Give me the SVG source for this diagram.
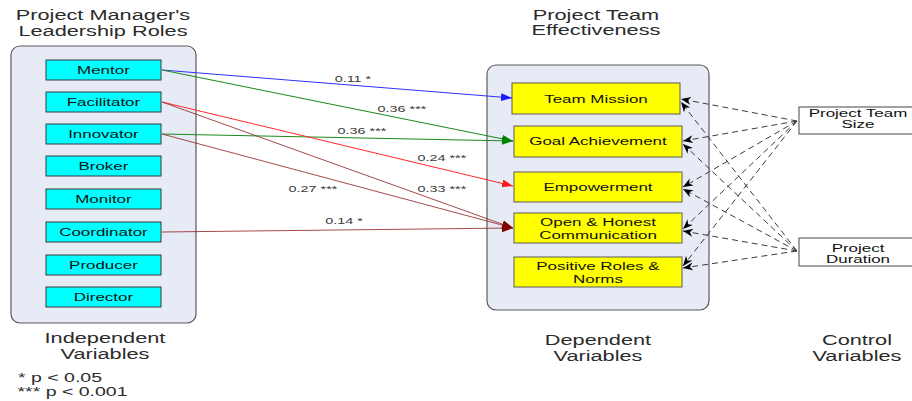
<svg xmlns="http://www.w3.org/2000/svg" width="912" height="401" viewBox="0 0 912 401">
  <defs>
    <style>
      .t { font-family: "Liberation Sans", Arial, sans-serif; text-anchor: middle; fill: #2b2b2b;
           transform-box: fill-box; transform-origin: center; transform: scaleX(1.5); }
      .title { font-size: 14.5px; }
      .lbl { font-size: 11.3px; fill: #111; }
      .w { font-size: 9.6px; fill: #3a3a3a; }
      .note { font-size: 13px; }
      .panel { fill: #e6ebf5; stroke: #5a5a5a; stroke-width: 1.2; }
      .role { fill: #00ffff; stroke: #3a3a3a; stroke-width: 1; }
      .dep { fill: #ffff00; stroke: #5a5a5a; stroke-width: 1; }
      .ctl { fill: #ffffff; stroke: #444; stroke-width: 1; }
      .e { fill: none; stroke-width: 1; }
      .dash { fill: none; stroke: #3c3c3c; stroke-width: 1; stroke-dasharray: 6 4; marker-end: url(#ab); }
    </style>
    <marker id="ablue" markerUnits="userSpaceOnUse" markerWidth="12" markerHeight="10" refX="11" refY="4" orient="auto">
      <path d="M0,0 L11,4 L0,8 Z" fill="#1a1aff"/>
    </marker>
    <marker id="agreen" markerUnits="userSpaceOnUse" markerWidth="12" markerHeight="10" refX="11" refY="4" orient="auto">
      <path d="M0,0 L11,4 L0,8 Z" fill="#008000"/>
    </marker>
    <marker id="ared" markerUnits="userSpaceOnUse" markerWidth="12" markerHeight="10" refX="11" refY="4" orient="auto">
      <path d="M0,0 L11,4 L0,8 Z" fill="#ff1a1a"/>
    </marker>
    <marker id="adark" markerUnits="userSpaceOnUse" markerWidth="12" markerHeight="10" refX="11" refY="4" orient="auto">
      <path d="M0,0 L11,4 L0,8 Z" fill="#800000"/>
    </marker>
    <marker id="ab" markerUnits="userSpaceOnUse" markerWidth="12" markerHeight="10" refX="10" refY="4" orient="auto">
      <path d="M0,0 L10,4 L0,8 L3,4 Z" fill="#000"/>
    </marker>
  </defs>

  <rect width="912" height="401" fill="#ffffff"/>

  <!-- section headings -->
  <g id="headings">
    <text class="t title" x="103" y="20">Project Manager's</text>
    <text class="t title" x="103" y="36">Leadership Roles</text>
    <text class="t title" x="596" y="20">Project Team</text>
    <text class="t title" x="596" y="35">Effectiveness</text>
    <text class="t title" x="105" y="343">Independent</text>
    <text class="t title" x="105" y="359">Variables</text>
    <text class="t title" x="598" y="345">Dependent</text>
    <text class="t title" x="598" y="361">Variables</text>
    <text class="t title" x="857" y="345">Control</text>
    <text class="t title" x="857" y="361">Variables</text>
    <text class="t note" x="60" y="382">* p &lt; 0.05</text>
    <text class="t note" x="72.5" y="396">*** p &lt; 0.001</text>
  </g>

  <!-- panels -->
  <g id="roles-panel">
    <rect class="panel" x="11" y="46" width="185" height="277" rx="9"/>
  </g>
  <g id="effectiveness-panel">
    <rect class="panel" x="487" y="65" width="222" height="245" rx="9"/>
  </g>

  <!-- leadership roles -->
  <g id="mentor"><rect class="role" x="46" y="60" width="115" height="20"/><text class="t lbl" x="103.5" y="74">Mentor</text></g>
  <g id="facilitator"><rect class="role" x="46" y="92" width="115" height="20"/><text class="t lbl" x="103.5" y="106">Facilitator</text></g>
  <g id="innovator"><rect class="role" x="46" y="124" width="115" height="20"/><text class="t lbl" x="103.5" y="138">Innovator</text></g>
  <g id="broker"><rect class="role" x="46" y="156" width="115" height="20"/><text class="t lbl" x="103.5" y="170">Broker</text></g>
  <g id="monitor"><rect class="role" x="46" y="189" width="115" height="20"/><text class="t lbl" x="103.5" y="203">Monitor</text></g>
  <g id="coordinator"><rect class="role" x="46" y="222" width="115" height="20"/><text class="t lbl" x="103.5" y="236">Coordinator</text></g>
  <g id="producer"><rect class="role" x="46" y="255" width="115" height="20"/><text class="t lbl" x="103.5" y="269">Producer</text></g>
  <g id="director"><rect class="role" x="46" y="287" width="115" height="20"/><text class="t lbl" x="103.5" y="301">Director</text></g>

  <!-- team effectiveness outcomes -->
  <g id="team-mission"><rect class="dep" x="512" y="83" width="168" height="31"/><text class="t lbl" x="596" y="103">Team Mission</text></g>
  <g id="goal-achievement"><rect class="dep" x="514" y="126" width="168" height="31"/><text class="t lbl" x="598" y="145.5">Goal Achievement</text></g>
  <g id="empowerment"><rect class="dep" x="514" y="172" width="168" height="30"/><text class="t lbl" x="598" y="191.5">Empowerment</text></g>
  <g id="open-honest">
    <rect class="dep" x="514" y="213" width="168" height="30"/>
    <text class="t lbl" x="598" y="226.5">Open &amp; Honest</text>
    <text class="t lbl" x="598" y="239">Communication</text>
  </g>
  <g id="positive-roles">
    <rect class="dep" x="514" y="257" width="168" height="30"/>
    <text class="t lbl" x="598" y="270.5">Positive Roles &amp;</text>
    <text class="t lbl" x="598" y="283">Norms</text>
  </g>

  <!-- control variables -->
  <g id="team-size">
    <rect class="ctl" x="799" y="107" width="118" height="27"/>
    <text class="t lbl" x="858" y="117">Project Team</text>
    <text class="t lbl" x="858" y="128.5">Size</text>
  </g>
  <g id="duration">
    <rect class="ctl" x="799" y="238" width="118" height="28"/>
    <text class="t lbl" x="858" y="252">Project</text>
    <text class="t lbl" x="858" y="263.5">Duration</text>
  </g>

  <!-- connectors -->
  <g id="connectors">
    <line class="e" x1="162" y1="70" x2="512" y2="98" stroke="#3030ff" marker-end="url(#ablue)"/>
    <line class="e" x1="162" y1="70" x2="513" y2="141" stroke="#1a8a1a" marker-end="url(#agreen)"/>
    <line class="e" x1="162" y1="134" x2="513" y2="141" stroke="#1a8a1a" marker-end="url(#agreen)"/>
    <line class="e" x1="162" y1="102" x2="513" y2="186" stroke="#ff2a2a" marker-end="url(#ared)"/>
    <line class="e" x1="162" y1="102" x2="513" y2="228" stroke="#952a2a" stroke-opacity="0.85" marker-end="url(#adark)"/>
    <line class="e" x1="162" y1="134" x2="513" y2="228" stroke="#952a2a" stroke-opacity="0.85" marker-end="url(#adark)"/>
    <line class="e" x1="162" y1="232" x2="513" y2="228" stroke="#952a2a" stroke-opacity="0.85" marker-end="url(#adark)"/>

    <text class="t w" x="353" y="82">0.11 *</text>
    <text class="t w" x="402" y="112">0.36 ***</text>
    <text class="t w" x="362" y="134">0.36 ***</text>
    <text class="t w" x="442" y="161">0.24 ***</text>
    <text class="t w" x="313" y="192">0.27 ***</text>
    <text class="t w" x="442" y="192">0.33 ***</text>
    <text class="t w" x="344" y="224">0.14 *</text>

    <!-- control effects -->
    <line class="dash" x1="797" y1="121" x2="681" y2="99"/>
    <line class="dash" x1="797" y1="121" x2="683" y2="141"/>
    <line class="dash" x1="797" y1="121" x2="683" y2="187"/>
    <line class="dash" x1="797" y1="121" x2="683" y2="229"/>
    <line class="dash" x1="797" y1="121" x2="683" y2="266"/>
    <line class="dash" x1="797" y1="251" x2="681" y2="102"/>
    <line class="dash" x1="797" y1="251" x2="683" y2="144"/>
    <line class="dash" x1="797" y1="251" x2="683" y2="189"/>
    <line class="dash" x1="797" y1="251" x2="683" y2="231"/>
    <line class="dash" x1="797" y1="251" x2="683" y2="268"/>
  </g>
</svg>
